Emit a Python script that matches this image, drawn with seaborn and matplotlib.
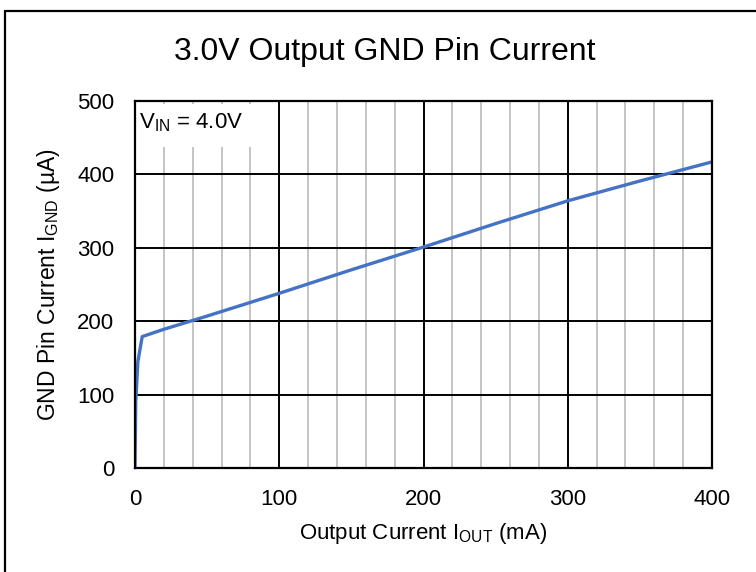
import matplotlib
matplotlib.use("Agg")
import matplotlib.pyplot as plt
import seaborn as sns
import pandas as pd
from matplotlib.patches import Rectangle
from matplotlib.lines import Line2D

# Data
iout_ma = [0, 0.5, 2, 5, 8, 20, 50, 100, 150, 200, 250, 300, 350, 400]
ignd_ua = [0, 90, 145, 179, 181, 189, 207, 238, 270, 301, 333, 364, 391, 417]
x_ticks = [0, 100, 200, 300, 400]
y_ticks = [0, 100, 200, 300, 400, 500]

title = "3.0V Output GND Pin Current"
xlabel = r"Output Current I$_{\mathrm{OUT}}$ (mA)"
ylabel = r"GND Pin Current I$_{\mathrm{GND}}$ (µA)"
note = r"V$_{\mathrm{IN}}$ = 4.0V"

sns.set_theme(style="white")
plt.rcParams["font.family"] = ["Liberation Sans", "DejaVu Sans"]
plt.rcParams["mathtext.fontset"] = "custom"
plt.rcParams["mathtext.rm"] = "Liberation Sans"
plt.rcParams["mathtext.it"] = "Liberation Sans"
plt.rcParams["mathtext.bf"] = "Liberation Sans"
plt.rcParams["text.color"] = "black"

df = pd.DataFrame({"x": iout_ma, "y": ignd_ua})

fig = plt.figure(figsize=(7.56, 5.72), dpi=100)
ax = fig.add_axes([135 / 756, 1 - 468 / 572, (712 - 135) / 756, (468 - 101) / 572])

# minor gridlines every 20
for xv in range(20, 400, 20):
    if xv % 100 != 0:
        ax.axvline(xv, color="#c4c4c4", lw=1.4, zorder=1)
for xv in x_ticks[1:-1]:
    ax.axvline(xv, color="black", lw=1.4, zorder=2)
for yv in y_ticks[1:-1]:
    ax.axhline(yv, color="black", lw=1.4, zorder=2)

# annotation box
ax.add_patch(Rectangle((0.5, 438), 97, 58, facecolor="white", edgecolor="none", zorder=3))
ax.text(3, 470, note, fontsize=16, va="center", ha="left", zorder=4)

sns.lineplot(data=df, x="x", y="y", ax=ax, color="#4472C4", lw=2.4, zorder=5)

ax.set_xlim(0, 400)
ax.set_ylim(0, 500)
ax.set_xticks(x_ticks)
ax.set_yticks(y_ticks)
ax.tick_params(axis="both", length=0, labelsize=16, colors="black")
ax.tick_params(axis="x", pad=15)
ax.tick_params(axis="y", pad=15)
for s in ax.spines.values():
    s.set_color("black")
    s.set_linewidth(1.6)
    s.set_zorder(6)
ax.set_xlabel(xlabel, fontsize=16, color="black", labelpad=8)
ax.set_ylabel(ylabel, fontsize=16.5, color="black", labelpad=11)

fig.text(385 / 756, 1 - 52 / 572, title, fontsize=23, ha="center", va="center")

# outer frame (cropped on right and bottom)
fig.add_artist(Line2D([4.5 / 756, 4.5 / 756], [0, 1 - 11 / 572], color="black", lw=1.6, transform=fig.transFigure))
fig.add_artist(Line2D([4.5 / 756, 1], [1 - 11 / 572, 1 - 11 / 572], color="black", lw=1.6, transform=fig.transFigure))

fig.savefig("out.png", dpi=100)
